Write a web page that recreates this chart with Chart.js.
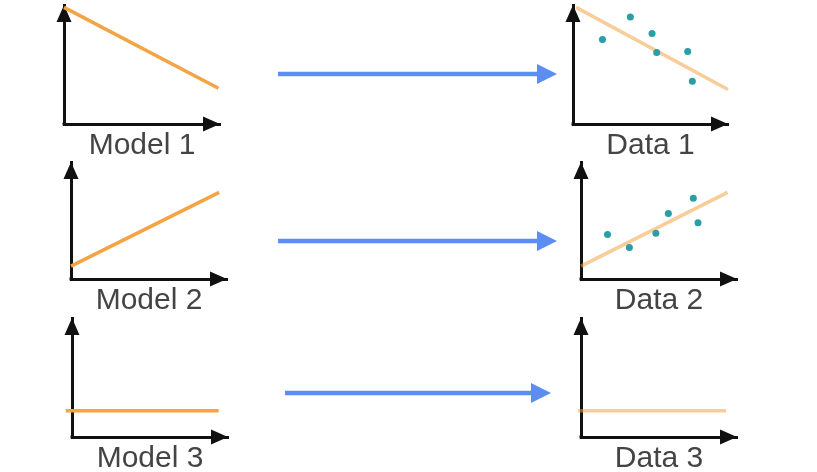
<!DOCTYPE html>
<html>
<head>
<meta charset="utf-8">
<script src="https://cdn.jsdelivr.net/npm/chart.js@4.4.0/dist/chart.umd.min.js"></script>
<style>
    html, body { margin: 0; padding: 0; background: #fff; width: 817px; height: 472px; overflow: hidden; position: relative; }
    .panel { position: absolute; }
    svg { position: absolute; left: 0; top: 0; }
</style>
</head>
<body>
<svg width="817" height="472" id="flow">
    <g fill="#5b8ef0" stroke="#5b8ef0">
        <line x1="278" y1="74" x2="540" y2="74" stroke-width="4.5"/>
        <polygon points="537,64 557,74 537,84" stroke="none"/>
        <line x1="278" y1="241" x2="540" y2="241" stroke-width="4.5"/>
        <polygon points="537,231 557,241 537,251" stroke="none"/>
        <line x1="285" y1="393" x2="534" y2="393" stroke-width="4.5"/>
        <polygon points="531,383 551,393 531,403" stroke="none"/>
    </g>
</svg>
<div class="panel" id="p1"><canvas id="c1"></canvas></div>
<div class="panel" id="p2"><canvas id="c2"></canvas></div>
<div class="panel" id="p3"><canvas id="c3"></canvas></div>
<div class="panel" id="p4"><canvas id="c4"></canvas></div>
<div class="panel" id="p5"><canvas id="c5"></canvas></div>
<div class="panel" id="p6"><canvas id="c6"></canvas></div>
<script>
// axis titles
const panelLabels = ['Model 1', 'Data 1', 'Model 2', 'Data 2', 'Model 3', 'Data 3'];

// lines and points, in 0..10 units on both axes
const model1Line = [{ x: 0, y: 9.8 }, { x: 9.9, y: 3.0 }];
const data1Line = [{ x: 0.2, y: 9.8 }, { x: 10, y: 2.9 }];
const data1Points = [
    { x: 1.9, y: 7.1 }, { x: 3.7, y: 9.0 }, { x: 5.1, y: 7.6 },
    { x: 5.4, y: 6.0 }, { x: 7.4, y: 6.1 }, { x: 7.7, y: 3.6 }
];
const model2Line = [{ x: 0, y: 1.1 }, { x: 9.5, y: 7.4 }];
const data2Line = [{ x: 0, y: 1.1 }, { x: 9.4, y: 7.4 }];
const data2Points = [
    { x: 1.7, y: 3.8 }, { x: 3.1, y: 2.7 }, { x: 4.8, y: 3.9 },
    { x: 5.6, y: 5.6 }, { x: 7.2, y: 6.9 }, { x: 7.5, y: 4.8 }
];
const model3Line = [{ x: -0.4, y: 2.2 }, { x: 9.4, y: 2.2 }];
const data3Line = [{ x: -0.2, y: 2.2 }, { x: 9.3, y: 2.2 }];

// where each panel's axes sit on the page
const layout = [
    { L: 64, R: 220, T: 5, B: 124 },
    { L: 573, R: 728, T: 5, B: 124 },
    { L: 71, R: 227, T: 162, B: 279 },
    { L: 581, R: 737, T: 162, B: 279 },
    { L: 72, R: 228, T: 318, B: 437 },
    { L: 581, R: 737, T: 318, B: 437 }
];

const MODEL_COLOR = '#f3a445';
const DATA_LINE_COLOR = 'rgba(243,164,69,0.55)';
const DOT_COLOR = '#2a9ea6';

const axisArrows = {
    id: 'axisArrows',
    beforeDatasetsDraw(chart) {
        const { ctx, chartArea: a } = chart;
        ctx.save();
        ctx.fillStyle = '#111';
        ctx.beginPath();
        ctx.moveTo(a.left, a.top);
        ctx.lineTo(a.left - 7.5, a.top + 17);
        ctx.lineTo(a.left + 7.5, a.top + 17);
        ctx.closePath();
        ctx.moveTo(a.right, a.bottom);
        ctx.lineTo(a.right - 17, a.bottom - 7.5);
        ctx.lineTo(a.right - 17, a.bottom + 7.5);
        ctx.closePath();
        ctx.fill();
        ctx.fillRect(a.left - 1.5, a.bottom - 1.5, 3, 3);
        ctx.restore();
    }
};

function lineSet(data, color) {
    return {
        data, showLine: true, borderColor: color, borderWidth: 3.5,
        pointRadius: 0, clip: false, order: 2
    };
}

function dotSet(data) {
    return {
        data, showLine: false, pointRadius: 3.5, pointBackgroundColor: DOT_COLOR,
        pointBorderWidth: 0, order: 1
    };
}

function makePanel(i, datasets) {
    const p = layout[i];
    const div = document.getElementById('p' + (i + 1));
    div.style.left = (p.L - 20) + 'px';
    div.style.top = (p.T - 4) + 'px';
    div.style.width = (p.R - p.L + 40) + 'px';
    div.style.height = (p.B - p.T + 46) + 'px';

    new Chart(document.getElementById('c' + (i + 1)), {
        type: 'scatter',
        data: { datasets },
        plugins: [axisArrows],
        options: {
            responsive: true,
            maintainAspectRatio: false,
            animation: false,
            layout: { padding: { left: 20, right: 20, top: 4, bottom: 0 } },
            plugins: { legend: { display: false }, tooltip: { enabled: false } },
            scales: {
                x: {
                    min: 0, max: 10,
                    grid: { display: false },
                    ticks: { display: false },
                    border: { display: true, color: '#111', width: 3 },
                    title: {
                        display: true, text: panelLabels[i], color: '#444',
                        font: { family: '"Liberation Sans", Arial, sans-serif', size: 30, lineHeight: 1.2 },
                        padding: { top: 0, bottom: 2 }
                    },
                    afterFit: s => { s.height = 42; }
                },
                y: {
                    min: 0, max: 10,
                    grid: { display: false },
                    ticks: { display: false },
                    border: { display: true, color: '#111', width: 3 },
                    afterFit: s => { s.width = 0; }
                }
            }
        }
    });
}

makePanel(0, [lineSet(model1Line, MODEL_COLOR)]);
makePanel(1, [lineSet(data1Line, DATA_LINE_COLOR), dotSet(data1Points)]);
makePanel(2, [lineSet(model2Line, MODEL_COLOR)]);
makePanel(3, [lineSet(data2Line, DATA_LINE_COLOR), dotSet(data2Points)]);
makePanel(4, [lineSet(model3Line, MODEL_COLOR)]);
makePanel(5, [lineSet(data3Line, DATA_LINE_COLOR)]);
</script>
</body>
</html>
